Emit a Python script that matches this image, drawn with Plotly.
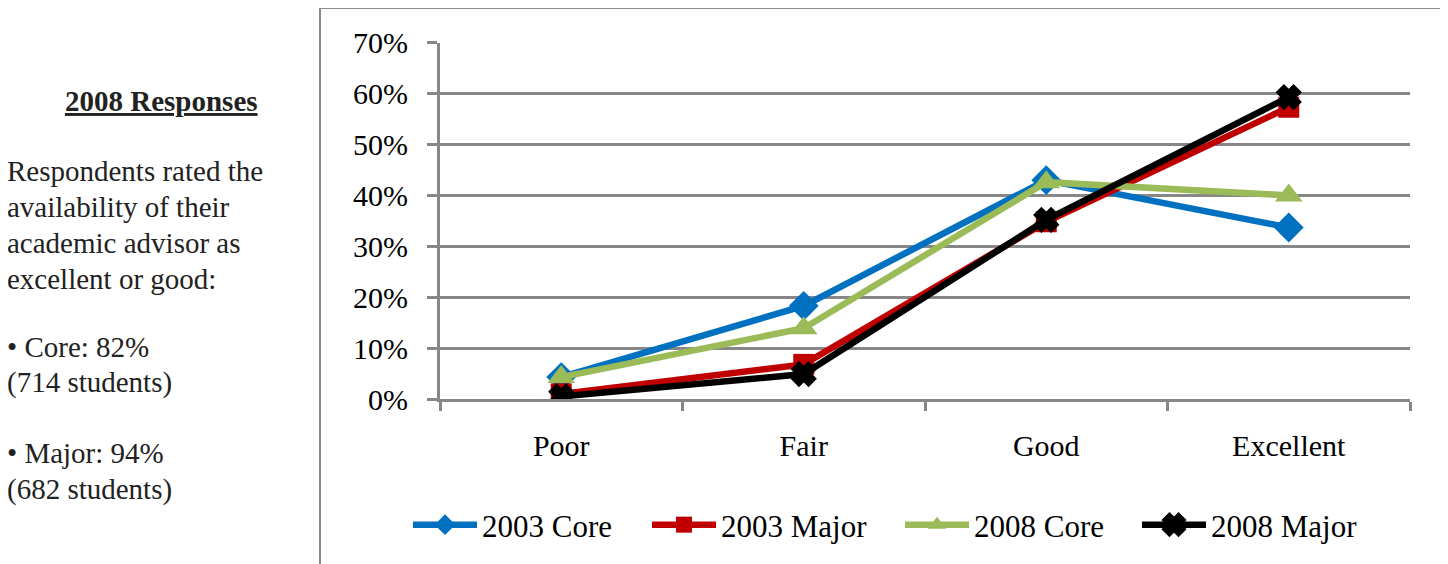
import plotly.graph_objects as go

categories = ["Poor", "Fair", "Good", "Excellent"]
core_2003 = [0.043, 0.183, 0.430, 0.337]
major_2003 = [0.010, 0.068, 0.348, 0.573]
core_2008 = [0.043, 0.139, 0.426, 0.400]
major_2008 = [0.005, 0.049, 0.352, 0.593]

series_names = ["2003 Core", "2003 Major", "2008 Core", "2008 Major"]
series_values = [core_2003, major_2003, core_2008, major_2008]
colors = ["#0070C0", "#C00000", "#9BBB59", "#000000"]
symbols = ["diamond", "square", "triangle-up", "x"]
sizes = [23, 21, 24, 17]
legend_widths = [160, 174, 158, 175]

# page body has an 8px margin; work in target pixels and convert
OFF = 8
W, H = 1448 - OFF, 564 - OFF


def px(X):
    return (X - OFF) / W


def py(Y):
    return 1 - (Y - OFF) / H


fig = go.Figure()
for name, vals, c, s, sz, lw in zip(series_names, series_values, colors, symbols, sizes, legend_widths):
    fig.add_trace(go.Scatter(
        x=categories, y=vals, name=name, mode="lines+markers",
        line=dict(color=c, width=6.5),
        marker=dict(symbol=s, size=sz, color=c, line=dict(color=c, width=5 if s == "x" else 0)),
        legendwidth=lw,
    ))

grid = "#878787"
font_family = "Liberation Serif, Times New Roman, serif"

fig.update_layout(
    width=W, height=H,
    margin=dict(l=0, r=0, t=0, b=0, autoexpand=False),
    paper_bgcolor="white", plot_bgcolor="white",
    font=dict(family=font_family, size=30, color="#000000"),
    showlegend=True,
    legend=dict(orientation="h", x=px(408), xanchor="left", y=py(525), yanchor="middle",
                font=dict(size=31, family=font_family), itemwidth=64, traceorder="normal",
                bgcolor="rgba(0,0,0,0)"),
    xaxis=dict(domain=[px(440), px(1410)], type="category", showgrid=False,
               showline=True, linecolor=grid, linewidth=3,
               ticks="outside", tickson="boundaries", ticklen=9, tickwidth=3, tickcolor=grid,
               ticklabelstandoff=18, tickfont=dict(size=30), range=[-0.5, 3.5]),
    yaxis=dict(domain=[py(399), py(42.7)], range=[0, 0.7], dtick=0.1, tickformat=".0%",
               showgrid=True, gridcolor=grid, gridwidth=3, zeroline=False,
               showline=True, linecolor=grid, linewidth=3,
               ticks="outside", ticklen=10, tickwidth=3, tickcolor=grid,
               ticklabelstandoff=13, tickfont=dict(size=30)),
)

# chart border
fig.add_shape(type="rect", xref="paper", yref="paper",
              x0=px(320), x1=px(1444), y0=-0.1, y1=py(8),
              line=dict(color="#8C8C8C", width=2), fillcolor="rgba(0,0,0,0)", layer="below")

# side text
fig.add_annotation(xref="paper", yref="paper", x=px(161), y=py(101), xanchor="center", yanchor="middle",
                   text="<b><u>2008 Responses</u></b>", showarrow=False,
                   font=dict(size=29, family=font_family, color="#222222"))
lines = [
    ("Respondents rated the", 171),
    ("availability of their", 207),
    ("academic advisor as", 243),
    ("excellent or good:", 279),
    ("• Core: 82%", 347),
    ("(714 students)", 382),
    ("• Major: 94%", 453),
    ("(682 students)", 489),
]
for t, yy in lines:
    fig.add_annotation(xref="paper", yref="paper", x=px(5), y=py(yy), xanchor="left", yanchor="middle",
                       text=t, showarrow=False, font=dict(size=29, family=font_family, color="#222222"))

fig.write_html("out.html")
